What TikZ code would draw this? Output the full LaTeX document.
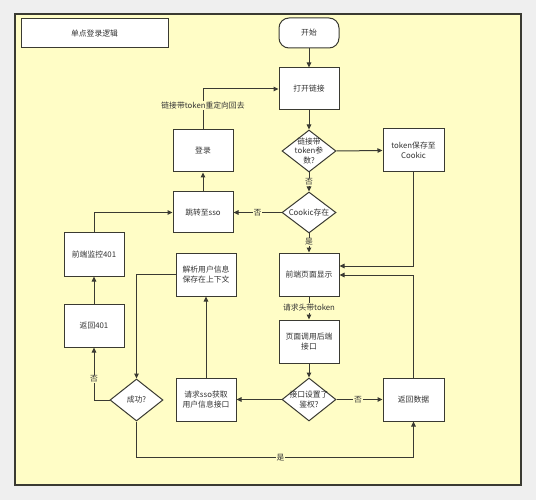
\documentclass[tikz,border=0pt]{standalone}
\usepackage{fontspec}
\setmainfont{Noto Sans CJK SC}
\usetikzlibrary{shapes.geometric,arrows.meta,calc}
\definecolor{outerbg}{HTML}{EFEFEF}
\definecolor{panel}{HTML}{FFFDC6}
\definecolor{ink}{HTML}{3A3A32}
\definecolor{txt}{HTML}{333333}
\begin{document}
\begin{tikzpicture}[x=1pt,y=-1pt,
  font=\fontsize{7.8}{9.5}\selectfont,
  every node/.style={text=txt},
  box/.style={draw=ink,fill=white,line width=1pt,minimum width=60pt,minimum height=43pt,inner sep=1pt,align=center},
  term/.style={box,rounded corners=10pt,minimum height=30pt},
  dia/.style={draw=ink,fill=white,line width=1pt,diamond,minimum width=54pt,minimum height=42pt,inner sep=0pt},
  conn/.style={draw=ink,line width=1pt,-{Triangle[length=5pt,width=4.5pt]}},
  plain/.style={draw=ink,line width=1pt},
  lbl/.style={fill=panel,inner sep=1pt,align=center}
]
\useasboundingbox (0,0) rectangle (536,500);
\fill[outerbg] (0,0) rectangle (536,500);
\draw[ink,fill=panel,line width=1.2pt] (15,14) rectangle (521,485);

\node[box,minimum width=147pt,minimum height=29pt] (title) at (94.5,33.5) {单点登录逻辑};
\node[term] (start) at (309,33) {开始};
\node[box,minimum height=42pt] (open) at (309,89) {打开链接};
\node[dia,label={center:{\parbox{40pt}{\centering 链接带\\token参\\数?}}}] (d1) at (309,151) {};
\node[box,minimum width=61pt] (tok) at (413.5,150.5) {token保存至\\Cookic};
\node[dia,minimum height=41pt,label={center:{Cookic存在}}] (d2) at (309,212.5) {};
\node[box] (front) at (309,274.5) {前端页面显示};
\node[box] (call) at (309,341.5) {页面调用后端\\接口};
\node[dia,minimum height=43pt,label={center:{\parbox{44pt}{\centering 接口设置了\\鉴权?}}}] (d3) at (309,399.5) {};
\node[box,minimum width=61pt] (ret) at (413.5,399.5) {返回数据};
\node[box,minimum height=42pt] (login) at (203,151) {登录};
\node[box,minimum height=41pt] (jump) at (203,212.5) {跳转至sso};
\node[box] (mon) at (94,254.5) {前端监控401};
\node[box] (r401) at (94,325.5) {返回401};
\node[dia,minimum width=53pt,label={center:{成功?}}] (ok) at (136.5,400) {};
\node[box] (parse) at (206,274.5) {解析用户信息\\保存在上下文};
\node[box] (req) at (206,399.5) {请求sso获取\\用户信息接口};

\path[conn] (start) -- (open);
\path[conn] (open) -- (d1);
\path[conn] (d1.east) -- (tok.west);
\path[conn] (d1.south) -- node[lbl] {否} (d2.north);
\path[conn] (d2.south) -- node[lbl,pos=0.45] {是} (front.north);
\path[conn] (front.south) -- node[lbl,pos=0.5] {请求头带token} (call.north);
\path[conn] (call.south) -- (d3.north);
\path[conn] (d3.east) -- node[lbl,pos=0.47] {否} (ret.west);
\path[conn] (d3.west) -- (req.east);
\path[conn] (req.north) -- (parse.south);
\path[conn] (parse.west) -| (ok.north);
\path[conn] (ok.west) -| node[lbl,pos=0.7] {否} (r401.south);
\path[conn] (r401.north) -- (mon.south);
\path[conn] (mon.north) |- (jump.west);
\path[conn] (d2.west) -- node[lbl,pos=0.5] {否} (jump.east);
\path[conn] (jump.north) -- (login.south);
\path[conn] (login.north) |- node[lbl,pos=0.3] {链接带token重定向回去} (open.west);
\coordinate (okdown) at ($(ok.south)+(0,36)$);
\path[conn] (ok.south) -- (okdown) -| node[lbl,pos=0.26] {是} (ret.south);
\path[conn] (ret.north) |- ([yshift=-0.5pt]front.east);
\path[conn] (tok.south) |- ([yshift=8.5pt]front.east);
\end{tikzpicture}
\end{document}
